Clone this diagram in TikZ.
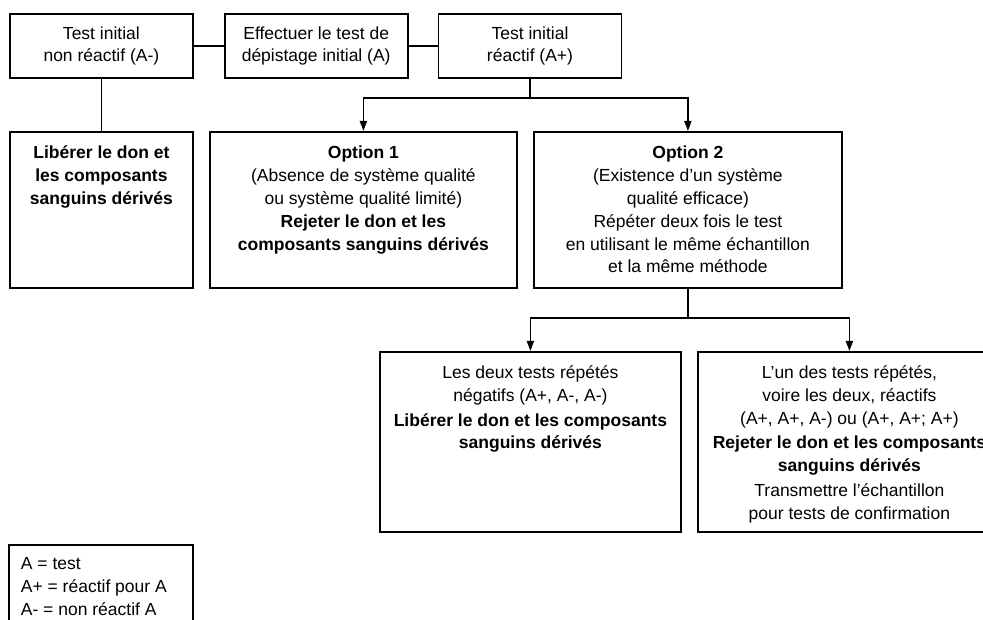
\documentclass[tikz,border=0pt]{standalone}
\usepackage{fontspec}
\setmainfont{Liberation Sans}
\usetikzlibrary{arrows.meta}
\usetikzlibrary{positioning}
\newcommand{\boxtext}[4]{\parbox[c][#2][t]{#1}{\centering\rule{0pt}{#3}#4}}

\begin{document}
\begin{tikzpicture}[x=1pt, y=-1pt, >={Triangle[length=10pt,width=7pt]},
  font=\fontsize{17.5}{22.8}\selectfont,
  topbox/.style={draw, line width=1.8pt, inner sep=0pt, minimum width=183pt, minimum height=64pt, align=center},
  flowbox/.style={draw, line width=1.8pt, inner sep=0pt, anchor=north west},
  link/.style={line width=1.8pt}]
\useasboundingbox (0,0) rectangle (983,620);
\clip (0,0) rectangle (983,620);

\node[topbox, anchor=north west] (neg) at (9,13) {Test initial\\non réactif (A-)};
\node[topbox, right=30pt of neg] (screen) {Effectuer le test de\\dépistage initial (A)};
\node[topbox, right=29pt of screen] (pos) {Test initial\\réactif (A+)};

\node[flowbox] (release) at (9,131) {\boxtext{183pt}{156pt}{27pt}{\bfseries Libérer le don et\\les composants\\sanguins dérivés}};
\node[flowbox] (opt1) at (209,131) {\boxtext{307pt}{156pt}{27pt}{\textbf{Option 1}\\(Absence de système qualité\\ou système qualité limité)\\\textbf{Rejeter le don et les}\\\textbf{composants sanguins dérivés}}};
\node[flowbox] (opt2) at (533,131) {\boxtext{308pt}{156pt}{27pt}{\textbf{Option 2}\\(Existence d’un système\\qualité efficace)\\Répéter deux fois le test\\en utilisant le même échantillon\\et la même méthode}};

\node[flowbox] (bothneg) at (379,351) {\boxtext{301pt}{180pt}{26.5pt}{Les deux tests répétés\\négatifs (A+, A-, A-)\\[2pt]\textbf{Libérer le don et les composants}\\\textbf{sanguins dérivés}}};
\node[flowbox] (anypos) at (697,351) {\boxtext{303pt}{180pt}{26.5pt}{L’un des tests répétés,\\voire les deux, réactifs\\(A+, A+, A-) ou (A+, A+; A+)\\[2pt]\textbf{Rejeter le don et les composants}\\\textbf{sanguins dérivés}\\[2pt]Transmettre l’échantillon\\pour tests de confirmation}};

\node[flowbox] (legend) at (8,544) {\parbox[c][90pt][t]{184pt}{\raggedright\leftskip=12pt\rule{0pt}{25pt}A = test\\A+ = réactif pour A\\A- = non réactif A}};

\draw[link] (neg) -- (screen);
\draw[link] (screen) -- (pos);
\draw[link] (neg) -- (release);
\draw[link] (pos.south) -- ++(0,19) coordinate (fork1);
\draw[link, ->] (fork1) -| (opt1.north);
\draw[link, ->] (fork1) -| (opt2.north);
\draw[link] (opt2.south) -- ++(0,29) coordinate (fork2);
\draw[link, ->] (fork2) -| (bothneg.north);
\draw[link, ->] (fork2) -| (anypos.north);
\end{tikzpicture}
\end{document}
